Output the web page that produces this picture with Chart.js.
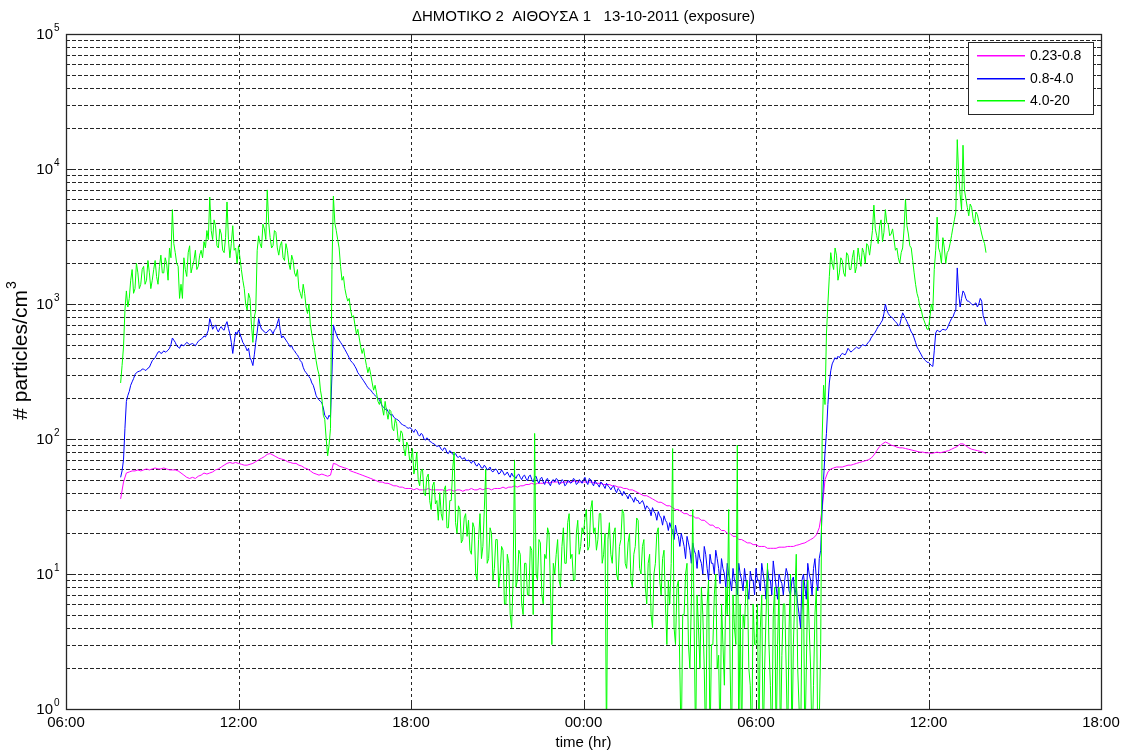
<!DOCTYPE html>
<html>
<head>
<meta charset="utf-8">
<script src="https://cdn.jsdelivr.net/npm/chart.js@4.4.0/dist/chart.umd.min.js"></script>
<style>
  html, body { margin: 0; padding: 0; background: #ffffff; }
  #wrap { width: 1125px; height: 755px; }
</style>
</head>
<body>
<div id="wrap"><canvas id="c" width="1125" height="755"></canvas></div>
<script>
// Texts
const TITLE = 'ΔΗΜΟΤΙΚΟ 2  ΑΙΘΟΥΣΑ 1   13-10-2011 (exposure)';
const X_LABEL = 'time (hr)';
const Y_LABEL = '# particles/cm';
const Y_LABEL_SUP = '3';
const SIZE_BINS = ['0.23-0.8', '0.8-4.0', '4.0-20'];
const SERIES_COLORS = ['#ff00ff', '#0000ff', '#00ff00'];

// Axes
const X_TICK_HOURS = [6, 12, 18, 24, 30, 36, 42];
const X_TICK_LABELS = ['06:00', '12:00', '18:00', '00:00', '06:00', '12:00', '18:00'];
const Y_DECADES = [0, 1, 2, 3, 4, 5];
const LOG_MANTISSAS = [1, 2, 3, 4, 5, 6, 7, 8, 9];

// Sampling (hours counted from 00:00 of the first day): first record 07:54,
// the 0.23-0.8 channel every 6 minutes, the two coarser channels every 3 minutes
const START_HOUR = 7.9;
const FINE_STEP_HOUR = 0.1;
const OPC_STEP_HOUR = 0.05;

// Particle number concentration, #/cm3, per size bin (um)
const fine = [
  36, 48, 56, 57, 58, 58, 59, 58, 59, 60, 59,
  60, 61, 60, 60, 61, 60, 59, 59, 59, 58,
  56, 54, 52, 51, 52, 51, 53, 54, 56, 55,
  56, 57, 59, 60, 62, 64, 66, 67, 66, 67,
  66, 65, 64, 64, 65, 66, 68, 70, 72, 74,
  77, 78, 76, 74, 72, 71, 70, 68, 67, 66,
  66, 64, 63, 61, 60, 58, 56, 55, 54, 55,
  54, 53, 54, 66, 65, 63, 62, 61, 60, 58,
  57, 56, 55, 54, 53, 52, 51, 50, 49, 48,
  48, 47, 47, 46, 45, 45, 44, 44, 43, 43,
  43, 42, 43, 42, 42, 42, 43, 42, 42, 42,
  42, 42, 41, 42, 42, 41, 42, 42, 41, 42,
  42, 43, 42, 42, 43, 42, 43, 43, 42, 43,
  43, 43, 44, 43, 44, 44, 45, 44, 45, 45,
  46, 46, 47, 46, 47, 47, 47, 48, 47, 48,
  48, 48, 47, 48, 48, 48, 48, 49, 48, 48,
  48, 48, 48, 48, 47, 47, 47, 46, 46, 46,
  45, 45, 44, 44, 43, 43, 42, 42, 41, 40,
  39, 38, 38, 37, 36, 35, 34, 34, 33, 32,
  32, 31, 30, 30, 29, 28, 28, 27, 27, 26,
  26, 25, 25, 24, 23, 23, 22, 22, 21, 21,
  20, 20, 19, 19, 18, 18, 17.5, 17, 17, 16.5,
  16.5, 16, 16, 16, 15.5, 15.5, 15.5, 15.5, 15.8, 15.8,
  15.8, 16, 16, 16, 16.3, 16.5, 16.8, 17, 17.5, 18,
  18.5, 19.5, 22, 30, 50, 57, 60, 61, 62, 62,
  62, 63, 64, 64, 65, 66, 67, 68, 69, 70,
  72, 76, 82, 88, 92, 95, 93, 90, 89, 87,
  86, 86, 85, 84, 83, 82, 81, 80, 80, 79,
  79, 78, 79, 80, 79, 80, 81, 82, 84, 86,
  88, 92, 92, 89, 86, 84, 83, 82, 81, 80,
  78
];

const mid = [
  52, 58,
  70, 120, 190, 210, 225, 250, 265, 280, 300, 310, 315, 318, 320, 330, 330, 322, 325, 335, 340, 360,
  380, 390, 400, 420, 440, 445, 430, 435, 450, 440, 445, 455, 470, 500, 560, 540, 520, 490, 480, 470,
  500, 495, 490, 505, 520, 510, 500, 505, 510, 500, 490, 510, 530, 540, 550, 560, 580, 570, 600, 640,
  780, 720, 650, 680, 700, 650, 620, 660, 680, 650, 640, 700, 740, 660, 600, 520, 430, 520, 620, 600,
  640, 600, 560, 520, 500, 480, 450, 470, 400, 380, 350, 420, 520, 620, 780, 700, 650, 640, 620, 610,
  620, 640, 650, 630, 600, 640, 660, 720, 780, 640, 560, 580, 560, 540, 520, 500, 480, 490, 460, 450,
  430, 420, 400, 380, 370, 340, 320, 310, 300, 290, 280, 260, 250, 230, 210, 200, 195, 190, 185, 170,
  150, 145, 140, 150, 145, 300, 700, 640, 600, 560, 540, 520, 500, 480, 460, 440, 420, 400, 380, 370,
  360, 345, 330, 310, 300, 290, 280, 270, 260, 250, 240, 235, 230, 222, 215, 210, 205, 200, 195, 185,
  175, 172, 165, 168, 160, 155, 150, 152, 145, 142, 140, 138, 135, 130, 128, 126, 125, 122, 120, 121,
  120, 116, 112, 118, 115, 108, 105, 110, 108, 100, 98, 102, 100, 96, 95, 93, 92, 90, 88, 89,
  88, 84, 82, 86, 85, 79, 78, 82, 80, 77, 76, 78, 74, 73, 75, 72, 71, 73, 70, 69,
  70, 68, 66, 69, 68, 64, 63, 66, 64, 61, 61, 64, 62, 59, 60, 62, 58, 57, 59, 60,
  58, 55, 56, 59, 57, 54, 55, 57, 54, 52, 56, 53, 53, 51, 54, 55, 52, 50, 53, 54,
  51, 49, 53, 54, 50, 48, 52, 53, 49, 47, 51, 52, 48, 46, 50, 51, 47, 45, 49, 50,
  48, 51, 50, 46, 47, 50, 49, 45, 46, 49, 49, 47, 48, 51, 50, 46, 47, 50, 49, 47,
  50, 52, 48, 46, 51, 50, 47, 45, 49, 47, 46, 44, 48, 47, 45, 43, 47, 45, 44, 42,
  44, 45, 42, 40, 43, 42, 40, 38, 41, 39, 38, 36, 39, 37, 36, 34, 37, 35, 35, 33,
  34, 35, 33, 30, 32, 31, 30, 27, 31, 29, 28, 25, 29, 27, 26, 23, 27, 25, 24, 21,
  24, 22, 21, 18, 23, 20, 19, 16, 20, 18, 16, 13, 19, 17, 15, 12, 17, 15, 14, 11,
  15, 13, 12, 10, 16, 14, 11, 9, 14, 12, 12, 10, 15, 13, 11, 8.5, 13, 11, 10, 8,
  12, 10, 9, 7.5, 11, 9, 8.5, 7, 12, 10, 9, 7.5, 11, 9, 8, 6.5, 10.5, 9, 9, 7,
  11, 9, 9, 7.5, 12, 10, 8.5, 6.5, 11, 9, 9, 7, 12.5, 10, 8, 6.5, 10, 9, 8.5, 7,
  9, 11, 10, 7.5, 7, 9, 9.5, 7, 8, 6, 5, 4, 9, 10, 8, 6.5, 12, 10, 9, 7,
  11, 13, 9, 7.5, 13, 15, 30, 50, 80, 110, 180, 260, 320, 360, 380, 400, 390, 410, 400, 420,
  430, 425, 420, 440, 470, 455, 440, 450, 460, 470, 480, 470, 470, 485, 500, 495, 490, 500, 520, 530,
  560, 580, 600, 620, 650, 680, 700, 730, 760, 850, 1000, 900, 850, 820, 800, 790, 760, 740, 720, 690,
  700, 780, 860, 820, 780, 740, 700, 660, 620, 600, 560, 520, 480, 460, 440, 420, 400, 390, 380, 370,
  370, 360, 350, 345, 450, 610, 640, 630, 620, 640, 650, 645, 640, 660, 700, 740, 780, 800, 860, 900,
  1850, 1200, 950, 1100, 1250, 1200, 1100, 1050, 1050, 1020, 1000, 980, 1000, 1020, 950, 1000, 1100, 1050, 820, 760,
  700
];

const coarse = [
  260, 350,
  480, 900, 1250, 950, 1100, 1500, 1800, 1200, 1300, 2000, 1700, 1300, 1400, 1800, 1900, 1400, 1500, 2100, 1700, 1300,
  1500, 1800, 2100, 1600, 1400, 1900, 2300, 1700, 1700, 2200, 2000, 1500, 2600, 2200, 5000, 2800, 2400, 2000, 1900, 1100,
  1400, 1100, 2200, 1800, 1600, 2400, 2700, 1700, 1900, 2100, 2500, 1800, 1900, 2300, 2500, 2200, 2900, 2600, 3500, 3000,
  6200, 3500, 3000, 4200, 3800, 2700, 2600, 3600, 3300, 2500, 2400, 3100, 5700, 3000, 2200, 2800, 3800, 2500, 2600, 2000,
  2700, 2200, 1800, 1500, 1300, 1000, 900, 1200, 1100, 700, 520, 800, 900, 2500, 3200, 2800, 2600, 3900, 3600, 3000,
  7000, 4000, 3100, 2600, 2700, 3500, 3400, 2600, 2300, 2700, 2900, 2200, 2100, 2800, 2500, 2000, 1800, 2300, 2100, 1700,
  1600, 1800, 1300, 1200, 1100, 1400, 1200, 950, 850, 1000, 700, 600, 520, 450, 380, 330, 300, 230, 200, 150,
  140, 100, 75, 90, 120, 1800, 6300, 4000, 3500, 3000, 2600, 1900, 1500, 1600, 1300, 1150, 1050, 1100, 900, 800,
  820, 700, 600, 650, 560, 480, 430, 470, 400, 350, 310, 340, 300, 260, 230, 250, 220, 190, 180, 200,
  170, 150, 190, 160, 140, 165, 160, 120, 115, 140, 130, 100, 95, 115, 110, 85, 75, 95, 90, 70,
  70, 85, 55, 62, 80, 50, 45, 58, 60, 40, 38, 52, 55, 35, 30, 45, 48, 33, 35, 25,
  40, 28, 25, 42, 45, 22, 22, 35, 35, 60, 80, 24, 20, 32, 30, 17, 18, 26, 28, 19,
  25, 15, 14, 24, 22, 10, 9, 18, 28, 13, 16, 30, 60, 12, 13, 22, 20, 9, 11, 18,
  18, 8, 10, 16, 15, 6, 6, 14, 12, 5, 4, 9, 70, 8, 9, 15, 14, 6, 5, 12,
  12, 7, 7, 16, 15, 5, 110, 10, 9, 18, 17, 7, 6, 14, 13, 22, 20, 8, 3, 12,
  10, 14, 18, 9, 8, 16, 22, 12, 12, 24, 28, 13, 14, 9, 9, 20, 25, 14, 16, 22,
  20, 26, 30, 15, 16, 30, 35, 20, 22, 15, 18, 28, 28, 12, 14, 20, 0.5, 18, 24, 14,
  12, 20, 22, 10, 9, 16, 18, 30, 28, 12, 11, 17, 20, 9, 8, 14, 16, 26, 25, 11,
  10, 16, 18, 8, 6, 12, 14, 5, 4, 10, 12, 20, 22, 9, 7, 13, 15, 6, 3, 9,
  6, 12, 85, 4, 3, 8, 9, 2, 0.5, 5, 5, 10, 12, 3, 2, 6, 30, 4, 0.5, 7,
  4, 2, 8, 5, 2, 0.5, 6, 9, 0.5, 3, 3, 7, 10, 2, 2.5, 0.5, 6, 3, 1.5, 8,
  5, 30, 2, 0.5, 7, 4, 3, 90, 0.5, 6, 0.5, 5, 4, 8, 9, 2, 1.5, 0.5, 6, 3,
  3, 6, 0.5, 4, 7, 0.5, 2, 5, 12, 3, 1.5, 0.5, 5, 8, 0.5, 3, 8, 0.5, 2.5, 6,
  6, 2, 0.5, 4, 10, 0.5, 3, 7, 14, 2, 1, 0.5, 5, 9, 0.5, 2, 9, 4, 2, 0.5,
  1.5, 5, 8, 0.5, 0.8, 3, 100, 250, 180, 600, 1000, 1600, 2400, 2000, 1800, 2600, 2300, 1500, 1700, 2200,
  2100, 1700, 1600, 2400, 2300, 1800, 1800, 2200, 2500, 1700, 1900, 2600, 2200, 1900, 2600, 2400, 2000, 2800, 2700, 2300,
  2800, 3500, 5400, 3600, 3200, 2800, 3800, 4200, 2900, 3400, 5000, 4000, 3900, 3200, 3300, 3600, 3000, 2500, 2600, 2200,
  2000, 2400, 2600, 3600, 6000, 3800, 3300, 2700, 2600, 2100, 1700, 1400, 1200, 1100, 950, 900, 800, 750, 700, 650,
  650, 800, 1000, 900, 1800, 2500, 4400, 2600, 2400, 2000, 3100, 2600, 2000, 2400, 2500, 2800, 3200, 3700, 4200, 4800,
  16500, 9000, 6500, 5000, 15000, 7000, 6000, 5200, 4500, 5500, 5200, 4300, 3900, 4800, 4600, 4100, 3700, 3300, 3000, 2800,
  2400
];

const FONT = '"Liberation Sans", Arial, Helvetica, sans-serif';
const INK = '#000000';
const FRAME = '#262626';

const toPoints = (vals, step) => vals.map((v, i) => ({ x: +(START_HOUR + i * step).toFixed(3), y: v }));
const yTickValues = Y_DECADES.flatMap(k =>
  k < Y_DECADES[Y_DECADES.length - 1] ? LOG_MANTISSAS.map(m => m * Math.pow(10, k)) : [Math.pow(10, k)]);

const datasets = [
  { label: SIZE_BINS[0], data: toPoints(fine, FINE_STEP_HOUR),  borderColor: SERIES_COLORS[0], order: 2 },
  { label: SIZE_BINS[1], data: toPoints(mid, OPC_STEP_HOUR),    borderColor: SERIES_COLORS[1], order: 1 },
  { label: SIZE_BINS[2], data: toPoints(coarse, OPC_STEP_HOUR), borderColor: SERIES_COLORS[2], order: 0 }
].map(d => Object.assign(d, { borderWidth: 1, pointRadius: 0, tension: 0, fill: false }));

function seg(ctx, x1, y1, x2, y2) {
  ctx.beginPath(); ctx.moveTo(x1, y1); ctx.lineTo(x2, y2); ctx.stroke();
}

// Grid, frame, tick marks, power-of-ten labels, titles and the boxed legend
const axesDecor = {
  id: 'axesDecor',
  beforeDatasetsDraw(chart) {
    const { ctx, chartArea: a, scales: { x, y } } = chart;
    ctx.save();
    ctx.lineWidth = 1;
    ctx.strokeStyle = FRAME;
    ctx.setLineDash([4, 2]);
    for (const t of y.ticks) {
      const py = Math.round(y.getPixelForValue(t.value)) + 0.5;
      if (py < a.top + 2 || py > a.bottom - 2) continue;
      seg(ctx, a.left, py, a.right, py);
    }
    ctx.setLineDash([3, 3]);
    for (const t of x.ticks) {
      const px = Math.round(x.getPixelForValue(t.value)) + 0.5;
      if (px < a.left + 2 || px > a.right - 2) continue;
      seg(ctx, px, a.top, px, a.bottom);
    }
    ctx.restore();
  },
  afterDatasetsDraw(chart) {
    const { ctx, chartArea: a, scales: { x, y } } = chart;
    ctx.save();
    ctx.setLineDash([]);
    ctx.strokeStyle = FRAME;
    ctx.lineWidth = 1;

    // tick marks on all four sides, pointing inwards
    for (const t of x.ticks) {
      const px = Math.round(x.getPixelForValue(t.value)) + 0.5;
      seg(ctx, px, a.bottom, px, a.bottom - 9);
      seg(ctx, px, a.top, px, a.top + 9);
    }
    for (const t of y.ticks) {
      const py = Math.round(y.getPixelForValue(t.value)) + 0.5;
      const major = Math.abs(Math.log10(t.value) - Math.round(Math.log10(t.value))) < 1e-9;
      const len = major ? 7 : 4;
      seg(ctx, a.left, py, a.left + len, py);
      seg(ctx, a.right, py, a.right - len, py);
    }

    // frame
    ctx.lineWidth = 1.3;
    ctx.strokeRect(a.left + 0.5, a.top + 0.5, a.right - a.left, a.bottom - a.top);

    // decade labels: 10 with a raised exponent
    ctx.fillStyle = INK;
    for (const k of Y_DECADES) {
      const py = y.getPixelForValue(Math.pow(10, k));
      ctx.font = '15px ' + FONT;
      ctx.textAlign = 'right';
      ctx.textBaseline = 'middle';
      ctx.fillText('10', a.left - 13, py + 1);
      ctx.font = '10px ' + FONT;
      ctx.textAlign = 'left';
      ctx.fillText(String(k), a.left - 12, py - 6);
    }

    // title and axis titles
    const cx = (a.left + a.right) / 2;
    ctx.font = '15px ' + FONT;
    ctx.textAlign = 'center';
    ctx.textBaseline = 'middle';
    ctx.fillText(TITLE, cx, 17);
    ctx.fillText(X_LABEL, cx, 743);

    ctx.save();
    ctx.translate(21, 351);
    ctx.rotate(-Math.PI / 2);
    ctx.font = '21px ' + FONT;
    const w1 = ctx.measureText(Y_LABEL).width;
    ctx.font = '14px ' + FONT;
    const w2 = ctx.measureText(Y_LABEL_SUP).width;
    const start = -(w1 + w2) / 2;
    ctx.textAlign = 'left';
    ctx.font = '21px ' + FONT;
    ctx.fillText(Y_LABEL, start, 0);
    ctx.font = '14px ' + FONT;
    ctx.fillText(Y_LABEL_SUP, start + w1 + 1, -9);
    ctx.restore();

    // legend
    const lx = 968, ly = 42, lw = 125, lh = 72;
    ctx.fillStyle = '#ffffff';
    ctx.fillRect(lx, ly, lw, lh);
    ctx.lineWidth = 1;
    ctx.strokeStyle = FRAME;
    ctx.strokeRect(lx + 0.5, ly + 0.5, lw, lh);
    ctx.font = '14px ' + FONT;
    ctx.textAlign = 'left';
    ctx.textBaseline = 'middle';
    chart.data.datasets.forEach((d, i) => {
      const ry = Math.round(ly + 13 + i * 22.5);
      ctx.fillStyle = SERIES_COLORS[i];
      ctx.fillRect(lx + 9, ry, 48, 1.5);
      ctx.fillStyle = INK;
      ctx.fillText(d.label, lx + 62, ry + 1);
    });
    ctx.restore();
  }
};

new Chart(document.getElementById('c'), {
  type: 'line',
  data: { datasets },
  options: {
    responsive: false,
    animation: false,
    devicePixelRatio: 1,
    layout: { padding: { top: 34, right: 24, left: 0, bottom: 0 } },
    plugins: { legend: { display: false }, title: { display: false }, tooltip: { enabled: false } },
    scales: {
      x: {
        type: 'linear',
        min: X_TICK_HOURS[0],
        max: X_TICK_HOURS[X_TICK_HOURS.length - 1],
        afterBuildTicks: s => { s.ticks = X_TICK_HOURS.map(v => ({ value: v })); },
        afterFit: s => { s.height = 46; },
        grid: { display: false, drawTicks: false },
        border: { display: false },
        ticks: {
          autoSkip: false,
          maxRotation: 0,
          padding: 5,
          color: INK,
          font: { family: FONT, size: 15 },
          callback: (v, i) => X_TICK_LABELS[i]
        }
      },
      y: {
        type: 'logarithmic',
        min: 1,
        max: 1e5,
        afterBuildTicks: s => { s.ticks = yTickValues.map(v => ({ value: v })); },
        afterFit: s => { s.width = 66; },
        grid: { display: false, drawTicks: false },
        border: { display: false },
        ticks: { display: false }
      }
    }
  },
  plugins: [axesDecor]
});
</script>
</body>
</html>
